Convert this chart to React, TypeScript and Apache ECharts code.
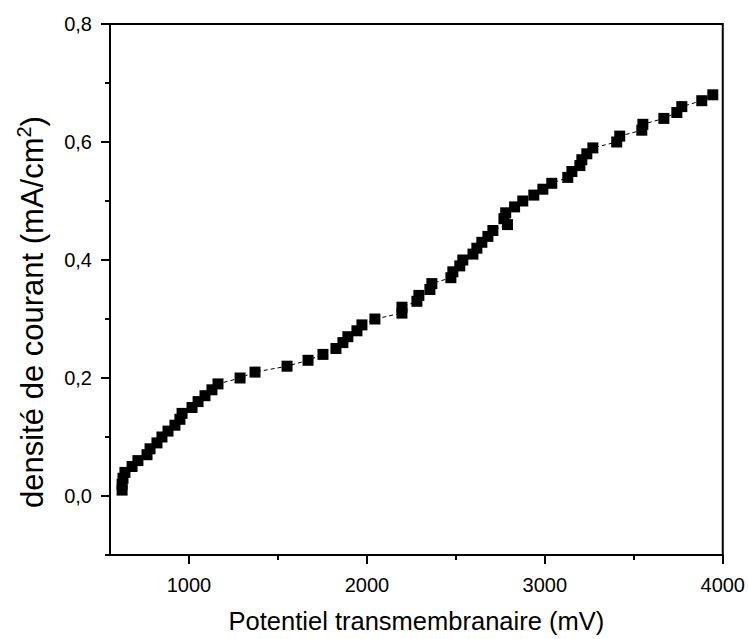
import React, { useEffect, useRef } from "react";
import * as echarts from "echarts";

const potentialMV = [
  624, 624, 629, 640, 680, 713, 764, 781, 820, 848, 882, 921, 949, 961, 1017, 1051, 1090, 1129, 1163,
  1287, 1371, 1551, 1669, 1753, 1826, 1865, 1893, 1944, 1972, 2045, 2197, 2197, 2281, 2292, 2354, 2365,
  2472, 2483, 2522, 2539, 2596, 2618, 2646, 2680, 2708, 2790, 2770, 2780, 2830, 2876, 2938, 2989, 3039,
  3129, 3152, 3197, 3208, 3236, 3270, 3404, 3421, 3545, 3551, 3669, 3742, 3770, 3882, 3944,
];
const currentDensity = [
  0.01, 0.02, 0.03, 0.04, 0.05, 0.06, 0.07, 0.08, 0.09, 0.1, 0.11, 0.12, 0.13, 0.14, 0.15, 0.16, 0.17,
  0.18, 0.19, 0.2, 0.21, 0.22, 0.23, 0.24, 0.25, 0.26, 0.27, 0.28, 0.29, 0.3, 0.31, 0.32, 0.33, 0.34,
  0.35, 0.36, 0.37, 0.38, 0.39, 0.4, 0.41, 0.42, 0.43, 0.44, 0.45, 0.46, 0.47, 0.48, 0.49, 0.5, 0.51,
  0.52, 0.53, 0.54, 0.55, 0.56, 0.57, 0.58, 0.59, 0.6, 0.61, 0.62, 0.63, 0.64, 0.65, 0.66, 0.67, 0.68,
];
const xMajorTicks = [1000, 2000, 3000, 4000];
const xMinorTicks = [1500, 2500, 3500];
const yMajorTicks = [0, 0.2, 0.4, 0.6, 0.8];
const yMinorTicks = [-0.1, 0.1, 0.3, 0.5, 0.7];

const X_MIN = 556;
const X_MAX = 4000;
const Y_MIN = -0.1;
const Y_MAX = 0.8;
const FONT = "Liberation Sans, Arial, sans-serif";

export default function App() {
  const ref = useRef<HTMLDivElement>(null);
  useEffect(() => {
    if (!ref.current) return;
    const chart = echarts.init(ref.current, undefined, { renderer: "svg" });
    const axisColor = "#000";
    const commonX = { type: "value", min: X_MIN, max: X_MAX, gridIndex: 0 };
    const commonY = { type: "value", min: Y_MIN, max: Y_MAX, gridIndex: 0 };
    chart.setOption({
      animation: false,
      backgroundColor: "#fff",
      grid: {
        left: 110,
        top: 24,
        right: 25,
        bottom: 82,
        show: true,
        borderColor: axisColor,
        borderWidth: 2,
        backgroundColor: "transparent",
      },
      graphic: [
        {
          type: "text",
          x: 32,
          y: 312,
          rotation: Math.PI / 2,
          style: {
            text: "{a|densité de courant (mA/cm}{s|2}{a|)}",
            align: "center",
            verticalAlign: "middle",
            fill: "#000",
            font: `31px ${FONT}`,
            rich: {
              a: { fontFamily: FONT, fontSize: 31, fill: "#000", lineHeight: 36 },
              s: { fontFamily: FONT, fontSize: 20, fill: "#000", lineHeight: 26, verticalAlign: "top" },
            },
          },
        },
      ],
      xAxis: [
        {
          ...commonX,
          name: "Potentiel transmembranaire (mV)",
          nameLocation: "middle",
          nameGap: 53,
          nameTextStyle: { fontFamily: FONT, fontSize: 25.5, color: "#000" },
          axisLine: { show: true, onZero: false, lineStyle: { color: axisColor, width: 2 } },
          axisTick: { show: true, inside: false, length: 9, lineStyle: { color: axisColor, width: 2 }, customValues: xMajorTicks },
          axisLabel: {
            show: true,
            fontFamily: FONT,
            fontSize: 20,
            color: "#000",
            margin: 20,
            customValues: xMajorTicks,
            formatter: (v: number) => String(Math.round(v)),
          },
          splitLine: { show: false },
        },
        {
          ...commonX,
          position: "bottom",
          axisLine: { show: false, onZero: false },
          axisTick: { show: true, length: 5, lineStyle: { color: axisColor, width: 2 }, customValues: xMinorTicks },
          axisLabel: { show: false },
          splitLine: { show: false },
        },
      ],
      yAxis: [
        {
          ...commonY,
          axisLine: { show: true, onZero: false, lineStyle: { color: axisColor, width: 2 } },
          axisTick: { show: true, length: 9, lineStyle: { color: axisColor, width: 2 }, customValues: yMajorTicks },
          axisLabel: {
            show: true,
            fontFamily: FONT,
            fontSize: 20,
            color: "#000",
            margin: 18,
            customValues: yMajorTicks,
            formatter: (v: number) => v.toFixed(1).replace(".", ","),
          },
          splitLine: { show: false },
        },
        {
          ...commonY,
          position: "left",
          axisLine: { show: false, onZero: false },
          axisTick: { show: true, length: 5, lineStyle: { color: axisColor, width: 2 }, customValues: yMinorTicks },
          axisLabel: { show: false },
          splitLine: { show: false },
        },
      ],
      series: [
        {
          type: "line",
          xAxisIndex: 0,
          yAxisIndex: 0,
          data: potentialMV.map((x, i) => [x, currentDensity[i]]),
          symbol: "rect",
          symbolSize: 11,
          itemStyle: { color: "#000" },
          lineStyle: { color: "#000", width: 1, type: [4, 3] },
          showAllSymbol: true,
          clip: false,
        },
      ],
    });
    return () => chart.dispose();
  }, []);
  return (
    <div
      ref={ref}
      style={{ position: "fixed", left: 0, top: 0, width: 748, height: 639, background: "#fff" }}
    />
  );
}
